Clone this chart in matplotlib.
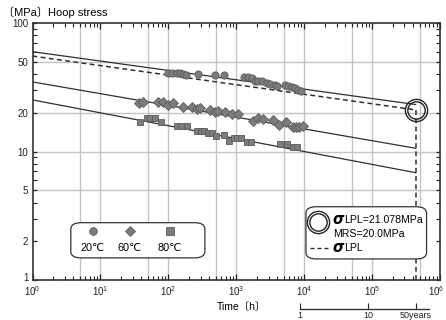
import matplotlib
matplotlib.use("Agg")
import matplotlib.pyplot as plt
import matplotlib.transforms as mtransforms
import numpy as np
from matplotlib.patches import FancyBboxPatch
from matplotlib.ticker import LogLocator, NullFormatter, FixedLocator, FixedFormatter

plt.rcParams['font.family'] = ['Liberation Sans', 'DejaVu Sans', 'Noto Sans CJK JP']
plt.rcParams['mathtext.fontset'] = 'custom'
plt.rcParams['mathtext.rm'] = 'Liberation Sans'
plt.rcParams['mathtext.it'] = 'Liberation Sans:italic'

# ---- data ----
t20 = [100, 112, 133, 149, 163, 182, 277, 487, 661, 1303, 1507, 1690, 1891, 2115, 2375,
       2815, 3148, 3728, 3950, 5226, 5851, 6561, 7345, 8224, 8913]
s20 = [40.6, 40.6, 41.0, 40.6, 40.1, 39.6, 40.1, 39.2, 39.2, 37.8, 37.8, 37.1, 35.6, 35.6, 35.6,
       34.0, 33.5, 32.9, 32.4, 32.9, 32.4, 31.9, 31.0, 30.1, 29.7]

t60 = [37.4, 42.8, 71.3, 82.2, 100, 117, 163, 221, 262, 293, 411, 487, 545, 684, 859, 1074,
       1786, 2118, 2483, 3483, 4315, 5414, 6794, 7603, 8500, 9537]
s60 = [24.0, 24.4, 24.4, 24.1, 23.0, 23.7, 22.3, 22.1, 21.3, 21.7, 21.0, 20.4, 20.8, 20.4, 19.6, 19.7,
       17.4, 18.1, 17.8, 17.6, 16.1, 17.1, 15.5, 15.6, 15.6, 15.8]

t80 = [37.7, 48.5, 54.3, 62.6, 77.3, 136, 152, 187, 267, 300, 335, 388, 436, 504, 661, 791,
       928, 1028, 1165, 1428, 1635, 4416, 5546, 6935, 7782]
s80 = [17.0, 18.1, 18.1, 18.1, 17.0, 15.7, 15.7, 15.7, 14.5, 14.5, 14.5, 14.0, 13.9, 13.2, 13.4, 12.1,
       12.7, 12.7, 12.7, 11.9, 11.9, 11.4, 11.4, 10.9, 10.8]

fit_t = [1, 438000]            # 1 h to 50 years
fit20 = [59.8, 23.2]
fit60 = [34.8, 10.6]
fit80 = [25.2, 6.84]
lpl = [55.3, 21.078]
t50y = 438000
sigma_lpl = 21.078

year_ticks_h = [8760, 87600, 438000]
year_labels = ['1', '10', '50years']
xtick_vals = [1, 10, 100, 1000, 10000, 100000, 1000000]
xtick_labels = [r'10$^{0}$', r'10$^{1}$', r'10$^{2}$', r'10$^{3}$', r'10$^{4}$', r'10$^{5}$', r'10$^{6}$']
ytick_vals = [1, 2, 5, 10, 20, 50, 100]
ytick_labels = ['1', '2', '5', '10', '20', '50', '100']

# ---- figure ----
W, H = 446, 320
fig = plt.figure(figsize=(W / 100, H / 100), dpi=100)
L, R, T, B = 32.5, 440, 23, 280
ax = fig.add_axes([L / W, 1 - B / H, (R - L) / W, (B - T) / H])
ax.set_xscale('log')
ax.set_yscale('log')
ax.set_xlim(1, 1e6)
ax.set_ylim(1, 100)

gc = '#c4c4c4'
for d in range(0, 6):
    for m in (1, 5):
        v = m * 10 ** d
        if 1 < v < 1e6:
            ax.axvline(v, color=gc, lw=1.0, zorder=0)
for v in [5, 10, 20, 50]:
    ax.axhline(v, color=gc, lw=1.0, zorder=0)

lc = '#303030'
ax.plot(fit_t, fit20, color=lc, lw=0.9, zorder=2)
ax.plot(fit_t, fit60, color=lc, lw=0.9, zorder=2)
ax.plot(fit_t, fit80, color=lc, lw=0.9, zorder=2)
ax.plot(fit_t, lpl, color=lc, lw=1.1, ls=(0, (3.2, 2.2)), zorder=2)
ax.plot([t50y, t50y], [1, sigma_lpl], color=lc, lw=1.1, ls=(0, (3.2, 2.2)), zorder=2)

fc, ec = '#7c7c7c', '#5c5c5c'
ax.plot(t20, s20, 'o', ms=5.2, mfc=fc, mec=ec, mew=0.6, zorder=3)
ax.plot(t60, s60, 'D', ms=4.6, mfc=fc, mec=ec, mew=0.6, zorder=3)
ax.plot(t80, s80, 's', ms=4.8, mfc=fc, mec=ec, mew=0.6, zorder=3)

# double circle at sigma_LPL
ax.plot([t50y], [sigma_lpl], 'o', ms=16, mfc='none', mec='#222222', mew=1.0, zorder=4)
ax.plot([t50y], [sigma_lpl], 'o', ms=12.5, mfc='none', mec='#222222', mew=1.0, zorder=4)

# ticks
ax.xaxis.set_major_locator(FixedLocator(xtick_vals))
ax.xaxis.set_major_formatter(FixedFormatter(xtick_labels))
ax.xaxis.set_minor_locator(LogLocator(base=10, subs=np.arange(2, 10), numticks=20))
ax.xaxis.set_minor_formatter(NullFormatter())
ax.yaxis.set_major_locator(FixedLocator(ytick_vals))
ax.yaxis.set_major_formatter(FixedFormatter(ytick_labels))
ax.yaxis.set_minor_locator(LogLocator(base=10, subs=np.arange(2, 10), numticks=20))
ax.yaxis.set_minor_formatter(NullFormatter())
ax.tick_params(which='both', direction='in', top=True, right=True, colors='#222222',
               labelsize=7, pad=3)
ax.tick_params(which='major', length=4, width=0.9)
ax.tick_params(which='minor', length=3, width=0.8)
ax.tick_params(axis='y', which='major', length=3)
for s in ax.spines.values():
    s.set_linewidth(1.2)
    s.set_color('#333333')

# legend box 1
tr = ax.transAxes
ax.add_patch(FancyBboxPatch((0.094, 0.086), 0.329, 0.137, boxstyle='round,pad=0,rounding_size=0.025',
                            transform=tr, fc='white', ec='#333333', lw=0.9, zorder=5, clip_on=False))
for xm, mk, ms, lab in [(0.148, 'o', 5.5, '20℃'), (0.239, 'D', 5.0, '60℃'), (0.337, 's', 5.2, '80℃')]:
    ax.plot([xm], [0.19], mk, ms=ms, mfc=fc, mec=ec, mew=0.6, transform=tr, zorder=6, clip_on=False)
    ax.text(xm, 0.123, lab, transform=tr, ha='center', va='center', fontsize=7.8, zorder=6,
            family=['Liberation Sans', 'DejaVu Sans'])

# legend box 2
ax.add_patch(FancyBboxPatch((0.671, 0.082), 0.296, 0.203, boxstyle='round,pad=0,rounding_size=0.025',
                            transform=tr, fc='white', ec='#333333', lw=0.9, zorder=5, clip_on=False))
ax.plot([0.701], [0.225], 'o', ms=16, mfc='none', mec='#222222', mew=1.0, transform=tr, zorder=6)
ax.plot([0.701], [0.225], 'o', ms=12.5, mfc='none', mec='#222222', mew=1.0, transform=tr, zorder=6)
ax.text(0.735, 0.237, 'σ', transform=tr, ha='left', va='center', fontsize=10.5, style='italic',
        weight='bold', zorder=6, family=['DejaVu Sans'])
ax.text(0.765, 0.233, 'LPL=21.078MPa', transform=tr, ha='left', va='center', fontsize=7.6, zorder=6)
ax.text(0.738, 0.180, 'MRS=20.0MPa', transform=tr, ha='left', va='center', fontsize=7.6, zorder=6)
ax.plot([0.681, 0.726], [0.125, 0.125], color=lc, lw=1.0, ls=(0, (3.0, 2.0)), transform=tr, zorder=6)
ax.text(0.735, 0.128, 'σ', transform=tr, ha='left', va='center', fontsize=10.5, style='italic',
        weight='bold', zorder=6, family=['DejaVu Sans'])
ax.text(0.765, 0.123, 'LPL', transform=tr, ha='left', va='center', fontsize=7.6, zorder=6)

# labels
fig.text(3 / W, 1 - 12 / H, '〔MPa〕Hoop stress', ha='left', va='center', fontsize=8,
         family=['Liberation Sans', 'Noto Sans CJK JP'])
fig.text(241 / W, 1 - 307 / H, 'Time〔h〕', ha='center', va='center', fontsize=7.5,
         family=['Liberation Sans', 'Noto Sans CJK JP'])

# year axis
yl = 309
ax2 = fig.add_axes([L / W, 1 - yl / H, (R - L) / W, 0.0001])
ax2.set_xscale('log')
ax2.set_xlim(1, 1e6)
ax2.patch.set_visible(False)
for k in ('top', 'left', 'right'):
    ax2.spines[k].set_visible(False)
ax2.spines['bottom'].set_bounds(8760, 7.0e5)
ax2.spines['bottom'].set_linewidth(1.0)
ax2.spines['bottom'].set_color('#333333')
ax2.set_yticks([])
ax2.xaxis.set_major_locator(FixedLocator(year_ticks_h))
ax2.xaxis.set_major_formatter(FixedFormatter(year_labels))
ax2.xaxis.set_minor_locator(FixedLocator([]))
ax2.tick_params(axis='x', direction='in', length=4, width=0.8, labelsize=6.5, pad=1.5, colors='#222222')

# nudge edge labels like the reference
fig.canvas.draw()
xl = ax.get_xticklabels()
xl[-1].set_ha('right')
xl[-1].set_transform(xl[-1].get_transform() + mtransforms.ScaledTranslation(4 / 100, 0, fig.dpi_scale_trans))
yl0 = ax.get_yticklabels()[0]
yl0.set_transform(yl0.get_transform() + mtransforms.ScaledTranslation(0, 3 / 100, fig.dpi_scale_trans))

fig.savefig('out.png', dpi=100)
